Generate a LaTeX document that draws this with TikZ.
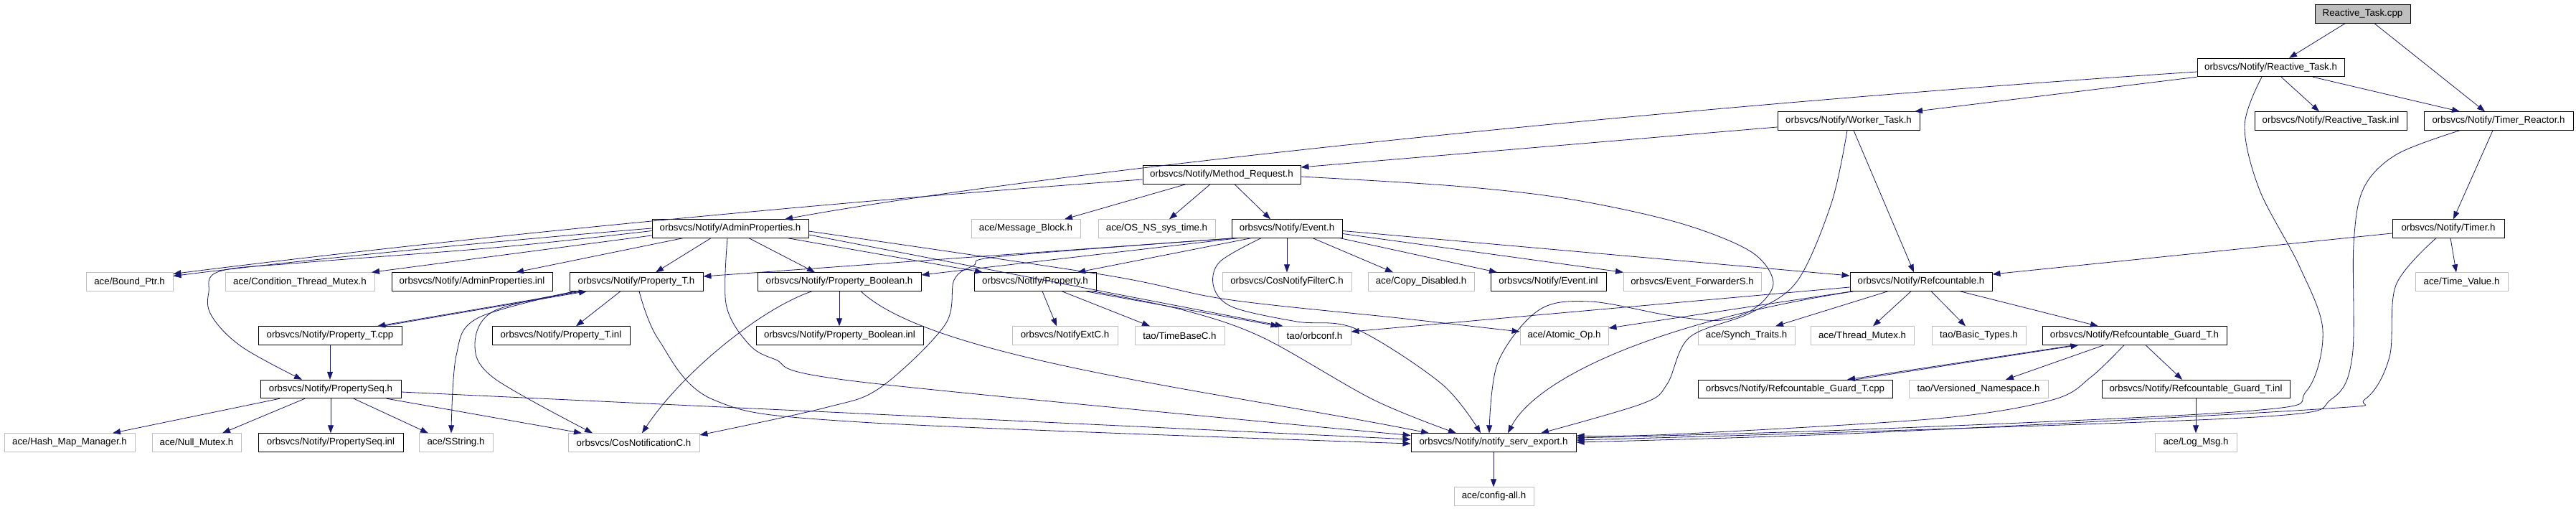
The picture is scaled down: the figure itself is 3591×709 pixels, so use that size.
\documentclass[tikz,border=0pt]{standalone}
\usepackage{fontspec}
\setmainfont{Liberation Sans}
\usetikzlibrary{arrows.meta}
\definecolor{edgecol}{HTML}{191970}
\definecolor{extgray}{HTML}{BFBFBF}
\newcommand\nodefont{\fontsize{13.3pt}{16pt}\selectfont}
\begin{document}
\begin{tikzpicture}[x=1pt,y=-1pt,
  doc/.style={draw=black,fill=white,line width=0.9pt,minimum height=25.5pt,inner sep=0pt,font=\nodefont},
  ext/.style={doc,draw=extgray},
  lnk/.style={draw=edgecol,line width=0.8pt,-{Triangle[length=11pt,width=8pt]}}]
\fill[white] (0,0) rectangle (3591,709);
\useasboundingbox (0,0) rectangle (3591,709);
% row 0-4
\node[doc,fill=extgray,minimum width=133pt] (cpp) at (3293.5,19.5) {Reactive\_Task.cpp};
\node[doc,minimum width=205pt] (RTh) at (3165.5,94) {orbsvcs/Notify/Reactive\_Task.h};
\node[doc,minimum width=198pt] (WT) at (2577,168.5) {orbsvcs/Notify/Worker\_Task.h};
\node[doc,minimum width=212pt] (RTinl) at (3249,168.5) {orbsvcs/Notify/Reactive\_Task.inl};
\node[doc,minimum width=208pt] (TR) at (3483,168.5) {orbsvcs/Notify/Timer\_Reactor.h};
\node[doc,minimum width=220pt] (MR) at (1703,243.5) {orbsvcs/Notify/Method\_Request.h};
\node[doc,minimum width=218pt] (AP) at (1018,318.5) {orbsvcs/Notify/AdminProperties.h};
\node[ext,minimum width=152pt] (MB) at (1430,318.5) {ace/Message\_Block.h};
\node[ext,minimum width=163pt] (OS) at (1612.5,318.5) {ace/OS\_NS\_sys\_time.h};
\node[doc,minimum width=154pt] (EV) at (1794,318.5) {orbsvcs/Notify/Event.h};
\node[doc,minimum width=156pt] (TI) at (3413,318.5) {orbsvcs/Notify/Timer.h};
% row 5
\node[ext,minimum width=121pt] (BP) at (180.5,392.5) {ace/Bound\_Ptr.h};
\node[ext,minimum width=208pt] (CTM) at (418,392.5) {ace/Condition\_Thread\_Mutex.h};
\node[doc,minimum width=224pt] (APinl) at (658,392.5) {orbsvcs/Notify/AdminProperties.inl};
\node[doc,minimum width=186pt] (PT) at (887,392.5) {orbsvcs/Notify/Property\_T.h};
\node[doc,minimum width=228pt] (PB) at (1170,392.5) {orbsvcs/Notify/Property\_Boolean.h};
\node[doc,minimum width=170pt] (PR) at (1443,392.5) {orbsvcs/Notify/Property.h};
\node[ext,minimum width=180pt] (CNF) at (1794,392.5) {orbsvcs/CosNotifyFilterC.h};
\node[ext,minimum width=148pt] (CD) at (1981,392.5) {ace/Copy\_Disabled.h};
\node[doc,minimum width=161pt] (EVinl) at (2158.5,392.5) {orbsvcs/Notify/Event.inl};
\node[ext,minimum width=192pt] (EFS) at (2359,392.5) {orbsvcs/Event\_ForwarderS.h};
\node[doc,minimum width=198pt] (RC) at (2678,392.5) {orbsvcs/Notify/Refcountable.h};
\node[ext,minimum width=129pt] (TV) at (3431.5,392.5) {ace/Time\_Value.h};
% row 6
\node[doc,minimum width=200pt] (PTcpp) at (460,467.5) {orbsvcs/Notify/Property\_T.cpp};
\node[doc,minimum width=192pt] (PTinl) at (782,467.5) {orbsvcs/Notify/Property\_T.inl};
\node[doc,minimum width=233pt] (PBinl) at (1170.5,467.5) {orbsvcs/Notify/Property\_Boolean.inl};
\node[ext,minimum width=147pt] (NEC) at (1484.5,467.5) {orbsvcs/NotifyExtC.h};
\node[ext,minimum width=125pt] (TBC) at (1644.5,467.5) {tao/TimeBaseC.h};
\node[ext,minimum width=101pt] (ORB) at (1832.5,467.5) {tao/orbconf.h};
\node[ext,minimum width=123pt] (AO) at (2180.5,467.5) {ace/Atomic\_Op.h};
\node[ext,minimum width=135pt] (ST) at (2434.5,467.5) {ace/Synch\_Traits.h};
\node[ext,minimum width=144pt] (TM) at (2596,467.5) {ace/Thread\_Mutex.h};
\node[ext,minimum width=131pt] (BT) at (2758.5,467.5) {tao/Basic\_Types.h};
\node[doc,minimum width=257pt] (RG) at (2975.5,467.5) {orbsvcs/Notify/Refcountable\_Guard\_T.h};
% row 7
\node[doc,minimum width=196pt] (PS) at (461,542) {orbsvcs/Notify/PropertySeq.h};
\node[doc,minimum width=271pt] (RGcpp) at (2502.5,542) {orbsvcs/Notify/Refcountable\_Guard\_T.cpp};
\node[ext,minimum width=194pt] (VN) at (2758,542) {tao/Versioned\_Namespace.h};
\node[doc,minimum width=262pt] (RGinl) at (3061,542) {orbsvcs/Notify/Refcountable\_Guard\_T.inl};
% row 8
\node[ext,minimum width=182pt] (HMM) at (97,616.5) {ace/Hash\_Map\_Manager.h};
\node[ext,minimum width=124pt] (NM) at (274,616.5) {ace/Null\_Mutex.h};
\node[doc,minimum width=202pt] (PSinl) at (461,616.5) {orbsvcs/Notify/PropertySeq.inl};
\node[ext,minimum width=103pt] (SS) at (635.5,616.5) {ace/SString.h};
\node[ext,minimum width=183pt] (CNC) at (883.5,616.5) {orbsvcs/CosNotificationC.h};
\node[doc,minimum width=230pt] (NSE) at (2082,616.5) {orbsvcs/Notify/notify\_serv\_export.h};
\node[ext,minimum width=114pt] (LM) at (3061,616.5) {ace/Log\_Msg.h};
% row 9
\node[ext,minimum width=111pt] (CA) at (2082.5,691.5) {ace/config-all.h};

% ---- edges ----
\draw[lnk] ([xshift=-24.5pt]cpp.south) -- ([xshift=25.5pt]RTh.north);
\draw[lnk] ([xshift=16.5pt]cpp.south) -- ([xshift=-19pt]TR.north);
\draw[lnk] ([yshift=-6pt]RTh.west) .. controls (2300,150) and (1450,240) .. ([xshift=76pt]AP.north);
\draw[lnk] (RTh.south west) -- ([xshift=92pt]WT.north);
\draw[lnk] ([xshift=14.5pt]RTh.south) -- ([xshift=-16pt]RTinl.north);
\draw[lnk] ([xshift=58.5pt]RTh.south) -- ([xshift=-54pt]TR.north);
\draw[lnk] plot[smooth,tension=0.55] coordinates {([xshift=-12.5pt]RTh.south) (3129,175) (3150,265) (3205,370) (3238,460) (3215,545) (3140,572) (2600,598) ([yshift=6.5pt]NSE.east)};
\draw[lnk] ([xshift=-8pt]TR.south) -- ([xshift=7pt]TI.north);
\draw[lnk] plot[smooth,tension=0.55] coordinates {([xshift=-54pt]TR.south) (3341,215) (3295,262) (3281,340) (3279,497) (3250,556) (3160,580) (2600,601) ([yshift=3.5pt]NSE.east)};
\draw[lnk] ([yshift=-8.5pt]WT.west) -- ([yshift=10.5pt]MR.east);
\draw[lnk] ([xshift=7pt]WT.south) -- ([xshift=-10pt]RC.north);
\draw[lnk] plot[smooth,tension=0.55] coordinates {([xshift=-2pt]WT.south) (2553,283) (2505,392) (2440,436) (2355,470) (2324,535) (2290,562) ([xshift=66pt]NSE.north)};
\draw[lnk] ([yshift=-6.5pt]MR.west) .. controls (1150,282) and (650,330) .. ([yshift=11pt]BP.east);
\draw[lnk] ([xshift=-50pt]MR.south) -- ([xshift=54pt]MB.north);
\draw[lnk] ([xshift=-16pt]MR.south) -- ([xshift=17.5pt]OS.north);
\draw[lnk] ([xshift=18pt]MR.south) -- ([xshift=-23pt]EV.north);
\draw[lnk] plot[smooth,tension=0.55] coordinates {([yshift=-2.5pt]MR.east) (2027,259) (2186,277) (2339,310) (2440,350) (2472,393) (2448,428) (2400,446) (2330,440) (2217,420) (2145,432) (2088,505) ([xshift=-6pt]NSE.north)};
\draw[lnk] ([yshift=0.5pt]AP.west) .. controls (700,335) and (420,362) .. ([yshift=8pt]BP.east);
\draw[lnk] ([yshift=-9.5pt]AP.west) -- ([xshift=100pt]CTM.north);
\draw[lnk] ([xshift=-66pt]AP.south) -- ([xshift=61pt]APinl.north);
\draw[lnk] ([xshift=-27pt]AP.south) -- ([xshift=27pt]PT.north);
\draw[lnk] ([xshift=26pt]AP.south) -- ([xshift=-34pt]PB.north);
\draw[lnk] ([xshift=80pt]AP.south) -- ([xshift=-73pt]PR.north);
\draw[lnk] plot[smooth,tension=0.6] coordinates {([yshift=-3pt]AP.west) (700,344) (420,366) (306,378) (291,407) (295,440) (337,483) ([xshift=-40pt]PS.north)};
\draw[lnk] plot[smooth,tension=0.55] coordinates {([xshift=-4pt]AP.south) (1012,423) (1040,475) (1079,500) (1200,532) ([yshift=10pt]NSE.west)};
\draw[lnk] ([yshift=-8.5pt]AP.east) -- ([xshift=-44pt]ORB.north);
\draw[lnk] plot[smooth,tension=0.55] coordinates {([yshift=-3.5pt]AP.east) (1540,383) (1710,417) (1950,443) ([yshift=5.5pt]AO.west)};
\draw[lnk] ([xshift=-72pt]EV.south) -- ([yshift=7.5pt]PT.east);
\draw[lnk] ([xshift=-68pt]EV.south) -- ([yshift=9.5pt]PB.east);
\draw[lnk] plot[smooth,tension=0.55] coordinates {([xshift=-74pt]EV.south) (1397,357) (1357,370) (1330,390) (1317,453) (1227,540) (1150,568) ([yshift=10.5pt]CNC.east)};
\draw[lnk] ([xshift=-50pt]EV.south) -- ([xshift=59pt]PR.north);
\draw[lnk] plot[smooth,tension=0.55] coordinates {([xshift=-36pt]EV.south) (1700,365) (1692,400) (1719,428) (1808,448) (1890,458) (2010,535) ([xshift=-18pt]NSE.north)};
\draw[lnk] (EV.south) -- (CNF.north);
\draw[lnk] ([xshift=36pt]EV.south) -- ([xshift=-39pt]CD.north);
\draw[lnk] ([xshift=74pt]EV.south) -- ([xshift=-71.5pt]EVinl.north);
\draw[lnk] ([yshift=-7pt]EV.east) -- ([xshift=-96pt]EFS.north);
\draw[lnk] ([yshift=-3pt]EV.east) -- ([yshift=8.5pt]RC.west);
\draw[lnk] ([yshift=-6.5pt]TI.west) -- ([yshift=10.5pt]RC.east);
\draw[lnk] ([xshift=3pt]TI.south) -- ([xshift=-7.5pt]TV.north);
\draw[lnk] plot[smooth,tension=0.55] coordinates {([xshift=-17pt]TI.south) (3340,397) (3331,497) (3297,556) (3230,570) (2600,603) ([yshift=0.5pt]NSE.east)};
\draw[lnk] ([xshift=-75pt]PT.south) -- ([xshift=66pt]PTcpp.north);
\draw[lnk] ([xshift=73pt]PTcpp.north) -- ([xshift=-69pt]PT.south);
\draw[lnk] ([xshift=-22pt]PT.south) -- ([xshift=21pt]PTinl.north);
\draw[lnk] plot[smooth,tension=0.55] coordinates {([xshift=-86pt]PT.south) (666,443) (636,495) ([xshift=-6.5pt]SS.north)};
\draw[lnk] plot[smooth,tension=0.55] coordinates {([xshift=-81pt]PT.south) (689,433) (662,480) (689,527) ([xshift=-57.5pt]CNC.north)};
\draw[lnk] plot[smooth,tension=0.55] coordinates {([xshift=4pt]PT.south) (918,473) (995,557) (1200,588) ([yshift=-1.5pt]NSE.west)};
\draw[lnk] (PTcpp.south) -- (PTcpp.south |- PS.north);
\draw[lnk] ([xshift=-71pt]PS.south) -- ([xshift=60pt]HMM.north);
\draw[lnk] ([xshift=-36pt]PS.south) -- ([xshift=36pt]NM.north);
\draw[lnk] (PS.south) -- (PSinl.north);
\draw[lnk] ([xshift=32pt]PS.south) -- ([xshift=-38.5pt]SS.north);
\draw[lnk] ([xshift=78pt]PS.south) -- ([xshift=-72.5pt]CNC.north);
\draw[lnk] ([yshift=-4pt]PS.east) -- ([yshift=4.5pt]NSE.west);
\draw[lnk] (PB.south) -- (PB.south |- PBinl.north);
\draw[lnk] ([xshift=-38pt]PB.south) .. controls (1060,430) and (950,520) .. ([xshift=11.5pt]CNC.north);
\draw[lnk] ([xshift=30pt]PB.south) .. controls (1300,500) and (1700,545) .. ([xshift=-90pt]NSE.north);
\draw[lnk] ([xshift=10pt]PR.south) -- ([xshift=-11.5pt]NEC.north);
\draw[lnk] ([xshift=37pt]PR.south) -- ([xshift=-41.5pt]TBC.north);
\draw[lnk] ([xshift=70pt]PR.south) -- ([xshift=-50pt]ORB.north);
\draw[lnk] plot[smooth,tension=0.55] coordinates {([xshift=80pt]PR.south) (1650,432) (1760,470) (1915,557) ([xshift=-52pt]NSE.north)};
\draw[lnk] ([xshift=-46pt]RC.south) -- ([xshift=40.5pt]ST.north);
\draw[lnk] ([xshift=-14pt]RC.south) -- ([xshift=15pt]TM.north);
\draw[lnk] ([xshift=14pt]RC.south) -- ([xshift=-18.5pt]BT.north);
\draw[lnk] ([xshift=54pt]RC.south) -- ([xshift=-50.5pt]RG.north);
\draw[lnk] ([yshift=-7.5pt]RC.west) -- ([yshift=5.5pt]ORB.east);
\draw[lnk] ([xshift=4pt]RC.south west) -- ([yshift=10.5pt]AO.east);
\draw[lnk] ([xshift=6pt]RC.south west) .. controls (2300,450) and (2140,530) .. ([xshift=20pt]NSE.north);
\draw[lnk] ([xshift=-82.5pt]RG.south) -- ([xshift=72.5pt]RGcpp.north);
\draw[lnk] ([xshift=84pt]RGcpp.north) -- ([xshift=-78pt]RG.south);
\draw[lnk] ([xshift=-42.5pt]RG.south) -- ([xshift=38pt]VN.north);
\draw[lnk] ([xshift=15.5pt]RG.south) -- ([xshift=-19pt]RGinl.north);
\draw[lnk] plot[smooth,tension=0.55] coordinates {([xshift=-14.5pt]RG.south) (2915,525) (2861,557) (2700,583) (2330,605) ([yshift=9.5pt]NSE.east)};
\draw[lnk] (RGinl.south) -- (LM.north);
\draw[lnk] (NSE.south) -- (NSE.south |- CA.north);
\end{tikzpicture}
\end{document}
